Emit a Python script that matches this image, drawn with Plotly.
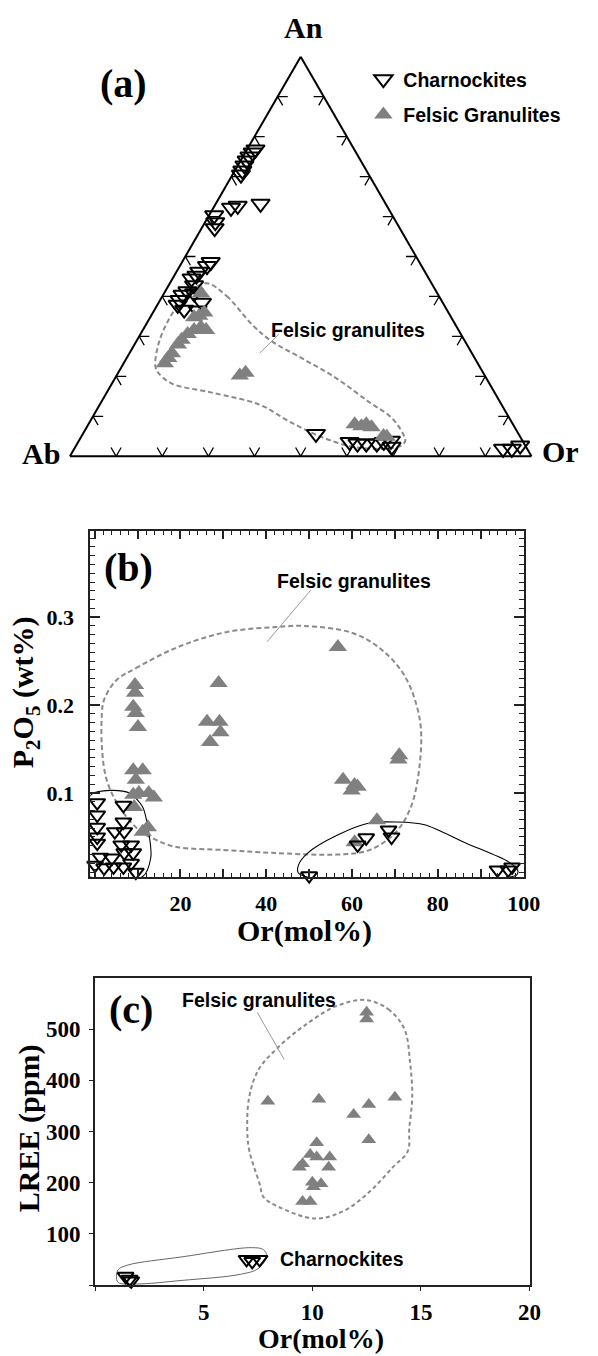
import plotly.graph_objects as go

W, H = 598, 1356
SERIF = "Liberation Serif"
SANS = "Liberation Sans"
GREY = "#808080"

# ---------------- (a) An-Ab-Or ternary (fractions) ----------------
A_CH_AN = [0.768, 0.760, 0.750, 0.740, 0.728, 0.715, 0.705,
           0.603, 0.586, 0.571, 0.622, 0.627, 0.632,
           0.486, 0.476, 0.462, 0.452, 0.445, 0.428, 0.413, 0.404, 0.391, 0.379,
           0.408, 0.384, 0.367, 0.365,
           0.056, 0.036, 0.032, 0.032, 0.032, 0.036, 0.039, 0.024,
           0.019, 0.019, 0.027]
A_CH_OR = [0.018, 0.016, 0.014, 0.013, 0.014, 0.016, 0.018,
           0.011, 0.022, 0.028, 0.038, 0.050, 0.097,
           0.062, 0.059, 0.049, 0.048, 0.041, 0.055, 0.048, 0.042, 0.042, 0.044,
           0.065, 0.094, 0.064, 0.094,
           0.505, 0.588, 0.607, 0.626, 0.649, 0.662, 0.676, 0.685,
           0.929, 0.948, 0.962]
A_FG_AN = [0.408, 0.348, 0.360, 0.352, 0.316, 0.323, 0.316, 0.306, 0.292, 0.280,
           0.258, 0.246, 0.233, 0.202, 0.209, 0.080, 0.075, 0.080, 0.073, 0.051, 0.049]
A_FG_OR = [0.080, 0.095, 0.111, 0.104, 0.111, 0.122, 0.137, 0.102, 0.096, 0.094,
           0.092, 0.090, 0.089, 0.267, 0.276, 0.577, 0.594, 0.602, 0.617, 0.654, 0.662]
A_FIELD_AN = [0.433, 0.401, 0.328, 0.287, 0.243, 0.194, 0.136, 0.097, 0.056, 0.039,
              0.027, 0.019, 0.024, 0.049, 0.088, 0.129, 0.160, 0.182, 0.209, 0.226,
              0.282, 0.340, 0.389, 0.421, 0.433]
A_FIELD_OR = [0.081, 0.139, 0.232, 0.295, 0.385, 0.482, 0.580, 0.648, 0.694, 0.707,
              0.705, 0.674, 0.601, 0.519, 0.430, 0.347, 0.225, 0.130, 0.087, 0.072,
              0.051, 0.043, 0.047, 0.059, 0.081]
A_LEADER_AN = [0.258, 0.306]
A_LEADER_OR = [0.282, 0.300]
TERN_TICKS = [0.1, 0.2, 0.3, 0.4, 0.5, 0.6, 0.7, 0.8, 0.9]
TICK_ARM = 0.022

# ---------------- (b) P2O5 vs Or ----------------
B_CH_OR = [0.6, 6.7, 0.6, 0.6, 6.7, 4.7, 6.9, 0.6, 0.6, 6.2, 8.5, 1.3, 4.0, 6.9, 9.0,
           0.1, 2.2, 4.4, 6.7, 8.5, 9.6,
           50.0, 61.3, 63.3, 68.5, 69.2, 93.9, 96.4, 97.3]
B_CH_P = [0.089, 0.086, 0.075, 0.061, 0.067, 0.056, 0.056, 0.050, 0.043, 0.041, 0.041,
          0.027, 0.026, 0.032, 0.032, 0.018, 0.015, 0.016, 0.016, 0.020, 0.010,
          0.006, 0.041, 0.049, 0.058, 0.050, 0.0125, 0.0125, 0.016]
B_FG_OR = [9.4, 9.4, 9.0, 9.6, 10.1, 28.9, 26.2, 29.1, 29.3, 26.9,
           9.0, 11.2, 9.6, 12.6, 10.3, 9.0, 13.8, 9.2, 12.4, 11.2,
           71.0, 70.8, 57.9, 60.6, 61.3, 59.9, 65.8, 60.6, 56.7]
B_FG_P = [0.223, 0.214, 0.198, 0.191, 0.175, 0.225, 0.181, 0.181, 0.169, 0.158,
          0.126, 0.126, 0.115, 0.100, 0.100, 0.098, 0.095, 0.084, 0.061, 0.056,
          0.143, 0.138, 0.115, 0.109, 0.107, 0.103, 0.069, 0.044, 0.266]
B_FIELD_X = [5.0, 9.6, 19.4, 30.7, 42.9, 48.8, 60.1, 66.9, 72.4, 75.8, 75.8, 73.7, 70.1,
             64.0, 56.5, 41.3, 30.7, 18.7, 14.2, 10.3, 5.8, 2.8, 1.7, 1.7, 2.2, 5.0]
B_FIELD_Y = [0.228, 0.242, 0.266, 0.283, 0.289, 0.290, 0.282, 0.263, 0.232, 0.183, 0.134,
             0.084, 0.055, 0.035, 0.030, 0.032, 0.035, 0.039, 0.047, 0.058, 0.084, 0.115,
             0.152, 0.191, 0.206, 0.228]
B_CH1_X = [-0.6, 3.5, 8.1, 11.2, 12.6, 13.1, 11.2, 0.6, -1.7, -2.1, -1.7, -0.6]
B_CH1_Y = [0.099, 0.103, 0.100, 0.084, 0.055, 0.027, 0.005, 0.001, 0.009, 0.058, 0.089, 0.099]
B_CH2_X = [47.5, 47.5, 49.7, 56.5, 64.0, 70.1, 76.9, 86.6, 96.4, 98.6, 98.4, 96.0, 50.0, 47.5]
B_CH2_Y = [0.009, 0.018, 0.032, 0.052, 0.066, 0.067, 0.064, 0.043, 0.022, 0.0125, 0.007,
           0.004, 0.004, 0.009]
B_LEADER_X = [40.2, 50.4]
B_LEADER_Y = [0.272, 0.331]

# ---------------- (c) LREE vs Or ----------------
C_CH_OR = [1.4, 1.58, 1.66, 6.97, 7.23, 7.57]
C_CH_LREE = [17, 11, 8, 50, 46, 50]
C_FG_OR = [7.95, 10.3, 11.9, 12.6, 13.8, 12.6, 10.2, 12.5, 12.5, 9.55,
           9.9, 10.2, 10.8, 10.75, 9.4, 10.0, 10.4, 10.05, 9.55, 9.9]
C_FG_LREE = [359, 363, 333, 353, 367, 284, 278, 533, 520, 237,
             255, 250, 250, 230, 230, 201, 198, 192, 163, 163]
C_FIELD_X = [12.46, 13.5, 14.24, 14.5, 14.6, 14.46, 14.4, 13.7, 12.7, 11.5, 10.15, 8.43,
             7.75, 7.57, 7.1, 7.0, 7.1, 7.54, 8.44, 9.6, 11.1, 12.46]
C_FIELD_Y = [557, 539, 500, 435, 369, 304, 262, 230, 185, 146, 130, 153,
             172, 198, 262, 304, 369, 422, 465, 506, 545, 557]
C_CH_FIELD_X = [1.06, 1.5, 4.0, 7.2, 7.75, 7.9, 7.5, 6.7, 4.0, 1.9, 1.06, 0.98, 1.06]
C_CH_FIELD_Y = [30, 39, 55, 73, 69, 56, 32, 21, 9, 2, 5, 17, 30]
C_LEADER_X = [7.46, 8.7]
C_LEADER_Y = [533, 441]


def px(x, y):
    return x / W, 1 - y / H


fig = go.Figure()

# ---- ternary tick marks (chevrons parallel to the other two sides) ----
ta, tb, tc = [], [], []
d = TICK_ARM
for t in TERN_TICKS:
    for pts in ([(d, 1 - t - d, t), (0, 1 - t, t), (d, 1 - t, t - d)],      # base (An = 0)
                [(t, 1 - t - d, d), (t, 1 - t, 0), (t - d, 1 - t, d)],      # left (Or = 0)
                [(t, d, 1 - t - d), (t, 0, 1 - t), (t - d, d, 1 - t)]):     # right (Ab = 0)
        for a_, b_, c_ in pts:
            ta.append(a_); tb.append(b_); tc.append(c_)
        ta.append(None); tb.append(None); tc.append(None)
fig.add_trace(go.Scatterternary(a=ta, b=tb, c=tc, mode="lines",
                                line=dict(color="black", width=1.3),
                                showlegend=False, hoverinfo="skip"))

fig.add_trace(go.Scatterternary(
    a=A_FIELD_AN, c=A_FIELD_OR, b=[1 - a - c for a, c in zip(A_FIELD_AN, A_FIELD_OR)],
    mode="lines", line=dict(color="#8a8a8a", width=2, dash="5px,3px", shape="spline"),
    showlegend=False, hoverinfo="skip"))
fig.add_trace(go.Scatterternary(
    a=A_LEADER_AN, c=A_LEADER_OR, b=[1 - a - c for a, c in zip(A_LEADER_AN, A_LEADER_OR)],
    mode="lines", line=dict(color="#9a9a9a", width=1), showlegend=False, hoverinfo="skip"))

fig.add_trace(go.Scatterternary(
    a=A_CH_AN, c=A_CH_OR, b=[1 - a - c for a, c in zip(A_CH_AN, A_CH_OR)],
    mode="markers", name="Charnockites", legendgroup="ch", cliponaxis=False,
    marker=dict(symbol="triangle-down-open", size=16, color="black", line=dict(width=2))))
fig.add_trace(go.Scatterternary(
    a=A_FG_AN, c=A_FG_OR, b=[1 - a - c for a, c in zip(A_FG_AN, A_FG_OR)],
    mode="markers", name="Felsic Granulites", legendgroup="fg", cliponaxis=False,
    marker=dict(symbol="triangle-up", size=16, color=GREY)))

# ---- (b) ----
fig.add_trace(go.Scatter(x=B_FIELD_X, y=B_FIELD_Y, mode="lines", xaxis="x", yaxis="y",
                         line=dict(color="#8a8a8a", width=2, dash="5px,3px", shape="spline"),
                         showlegend=False, hoverinfo="skip"))
for xs, ys in ((B_CH1_X, B_CH1_Y), (B_CH2_X, B_CH2_Y)):
    fig.add_trace(go.Scatter(x=xs, y=ys, mode="lines", xaxis="x", yaxis="y",
                             line=dict(color="black", width=1.1, shape="spline", smoothing=0.8),
                             showlegend=False, hoverinfo="skip"))
fig.add_trace(go.Scatter(x=B_LEADER_X, y=B_LEADER_Y, mode="lines", xaxis="x", yaxis="y",
                         line=dict(color="#9a9a9a", width=1), showlegend=False, hoverinfo="skip"))
fig.add_trace(go.Scatter(x=B_FG_OR, y=B_FG_P, mode="markers", xaxis="x", yaxis="y",
                         marker=dict(symbol="triangle-up", size=16, color=GREY),
                         showlegend=False, cliponaxis=False))
fig.add_trace(go.Scatter(x=B_CH_OR, y=B_CH_P, mode="markers", xaxis="x", yaxis="y",
                         marker=dict(symbol="triangle-down-open", size=14, color="black",
                                     line=dict(width=2)),
                         showlegend=False, cliponaxis=False))

# ---- (c) ----
fig.add_trace(go.Scatter(x=C_FIELD_X, y=C_FIELD_Y, mode="lines", xaxis="x2", yaxis="y2",
                         line=dict(color="#8a8a8a", width=2, dash="4px,3px", shape="spline"),
                         showlegend=False, hoverinfo="skip"))
fig.add_trace(go.Scatter(x=C_CH_FIELD_X, y=C_CH_FIELD_Y, mode="lines", xaxis="x2", yaxis="y2",
                         line=dict(color="#555555", width=0.9, shape="spline"),
                         showlegend=False, hoverinfo="skip"))
fig.add_trace(go.Scatter(x=C_LEADER_X, y=C_LEADER_Y, mode="lines", xaxis="x2", yaxis="y2",
                         line=dict(color="#9a9a9a", width=1), showlegend=False, hoverinfo="skip"))
fig.add_trace(go.Scatter(x=C_FG_OR, y=C_FG_LREE, mode="markers", xaxis="x2", yaxis="y2",
                         marker=dict(symbol="triangle-up", size=13, color=GREY),
                         showlegend=False, cliponaxis=False))
fig.add_trace(go.Scatter(x=C_CH_OR, y=C_CH_LREE, mode="markers", xaxis="x2", yaxis="y2",
                         marker=dict(symbol="triangle-down-open", size=14, color="black",
                                     line=dict(width=2)),
                         showlegend=False, cliponaxis=False))

axis_line = dict(showline=True, linecolor="#222222", linewidth=2, showgrid=False,
                 zeroline=False)
tickfont_b = dict(family=SERIF, size=22, color="black", weight="bold")
tickfont_c = dict(family=SERIF, size=23, color="black", weight="bold")

ann = []


def add_text(text, x, y, size, family=SERIF, xanchor="center", textangle=0, yanchor="middle"):
    x, y = px(x, y)
    ann.append(dict(text=text, x=x, y=y, xref="paper", yref="paper", showarrow=False,
                    xanchor=xanchor, yanchor=yanchor, textangle=textangle,
                    font=dict(family=family, size=size, color="black", weight="bold")))


add_text("(a)", 127, 84, 40)
add_text("An", 312, 28, 30)
add_text("Ab", 42, 453, 30)
add_text("Or", 577, 452, 30)
add_text("Felsic granulites", 277, 330, 19.5, family=SANS, xanchor="left")
add_text("(b)", 132, 567, 40)
add_text("Felsic granulites", 283, 581, 19.5, family=SANS, xanchor="left")
add_text("Or(mol%)", 313, 931, 30)
add_text("P<sub>2</sub>O<sub>5</sub> (wt%)", 26, 692, 30, textangle=-90)
add_text("(c)", 135, 1009, 40)
add_text("Felsic granulites", 185, 1000, 19.5, family=SANS, xanchor="left")
add_text("Charnockites", 286, 1259, 19.5, family=SANS, xanchor="left")
add_text("LREE (ppm)", 30, 1128, 30, textangle=-90)
add_text("Or(mol%)", 330, 1356, 28, yanchor="bottom")

tern_axis = dict(showticklabels=False, ticks="", showgrid=False, linecolor="black",
                 linewidth=2, title=dict(text=""))

fig.update_layout(
    width=W, height=H, margin=dict(l=0, r=0, t=0, b=0),
    paper_bgcolor="white", plot_bgcolor="white",
    ternary=dict(domain=dict(x=[72 / W, 547 / W], y=[1 - 463 / H, 1 - 50 / H]),
                 sum=1, bgcolor="white",
                 aaxis=tern_axis, baxis=tern_axis, caxis=tern_axis),
    xaxis=dict(domain=[93 / W, 539 / W], anchor="y", range=[-1, 100], **axis_line,
               mirror="allticks", ticks="inside", ticklen=8, tickwidth=1.5, tickcolor="#222222",
               tickvals=[0, 10, 20, 30, 40, 50, 60, 70, 80, 90, 100],
               ticktext=["", "", "20", "", "40", "", "60", "", "80", "", "100"],
               minor=dict(dtick=2, tick0=0, ticks="inside", ticklen=4, tickwidth=1,
                          tickcolor="#222222"),
               tickfont=tickfont_b, ticklabelstandoff=6),
    yaxis=dict(domain=[1 - 877 / H, 1 - 531 / H], anchor="x", range=[0.0045, 0.398],
               **axis_line, mirror="allticks", ticks="inside", ticklen=10, tickwidth=1.5,
               tickcolor="#222222", tickvals=[0.1, 0.2, 0.3], ticktext=["0.1", "0.2", "0.3"],
               minor=dict(dtick=0.01, tick0=0, ticks="inside", ticklen=5, tickwidth=1,
                          tickcolor="#222222"),
               tickfont=tickfont_b, ticklabelstandoff=10),
    xaxis2=dict(domain=[98 / W, 545 / W], anchor="y2", range=[0, 20], **axis_line,
                mirror=True, ticks="outside", ticklen=4, tickwidth=1, tickcolor="#222222",
                tickvals=[0, 5, 10, 15, 20], ticktext=["", "5", "10", "15", "20"],
                tickfont=tickfont_c, ticklabelstandoff=1),
    yaxis2=dict(domain=[1 - 1285 / H, 1 - 978 / H], anchor="x2", range=[0, 600], **axis_line,
                mirror=True, ticks="outside", ticklen=4, tickwidth=1, tickcolor="#222222",
                tickvals=[0, 100, 200, 300, 400, 500],
                ticktext=["", "100", "200", "300", "400", "500"],
                tickfont=tickfont_c, ticklabelstandoff=4),
    legend=dict(x=374 / W, y=1 - 60 / H, xanchor="left", yanchor="top",
                font=dict(family=SANS, size=19.5, color="black", weight="bold"),
                bgcolor="rgba(0,0,0,0)", tracegroupgap=7, itemsizing="trace"),
    annotations=ann,
    showlegend=True,
)

fig.write_html("out.html")
